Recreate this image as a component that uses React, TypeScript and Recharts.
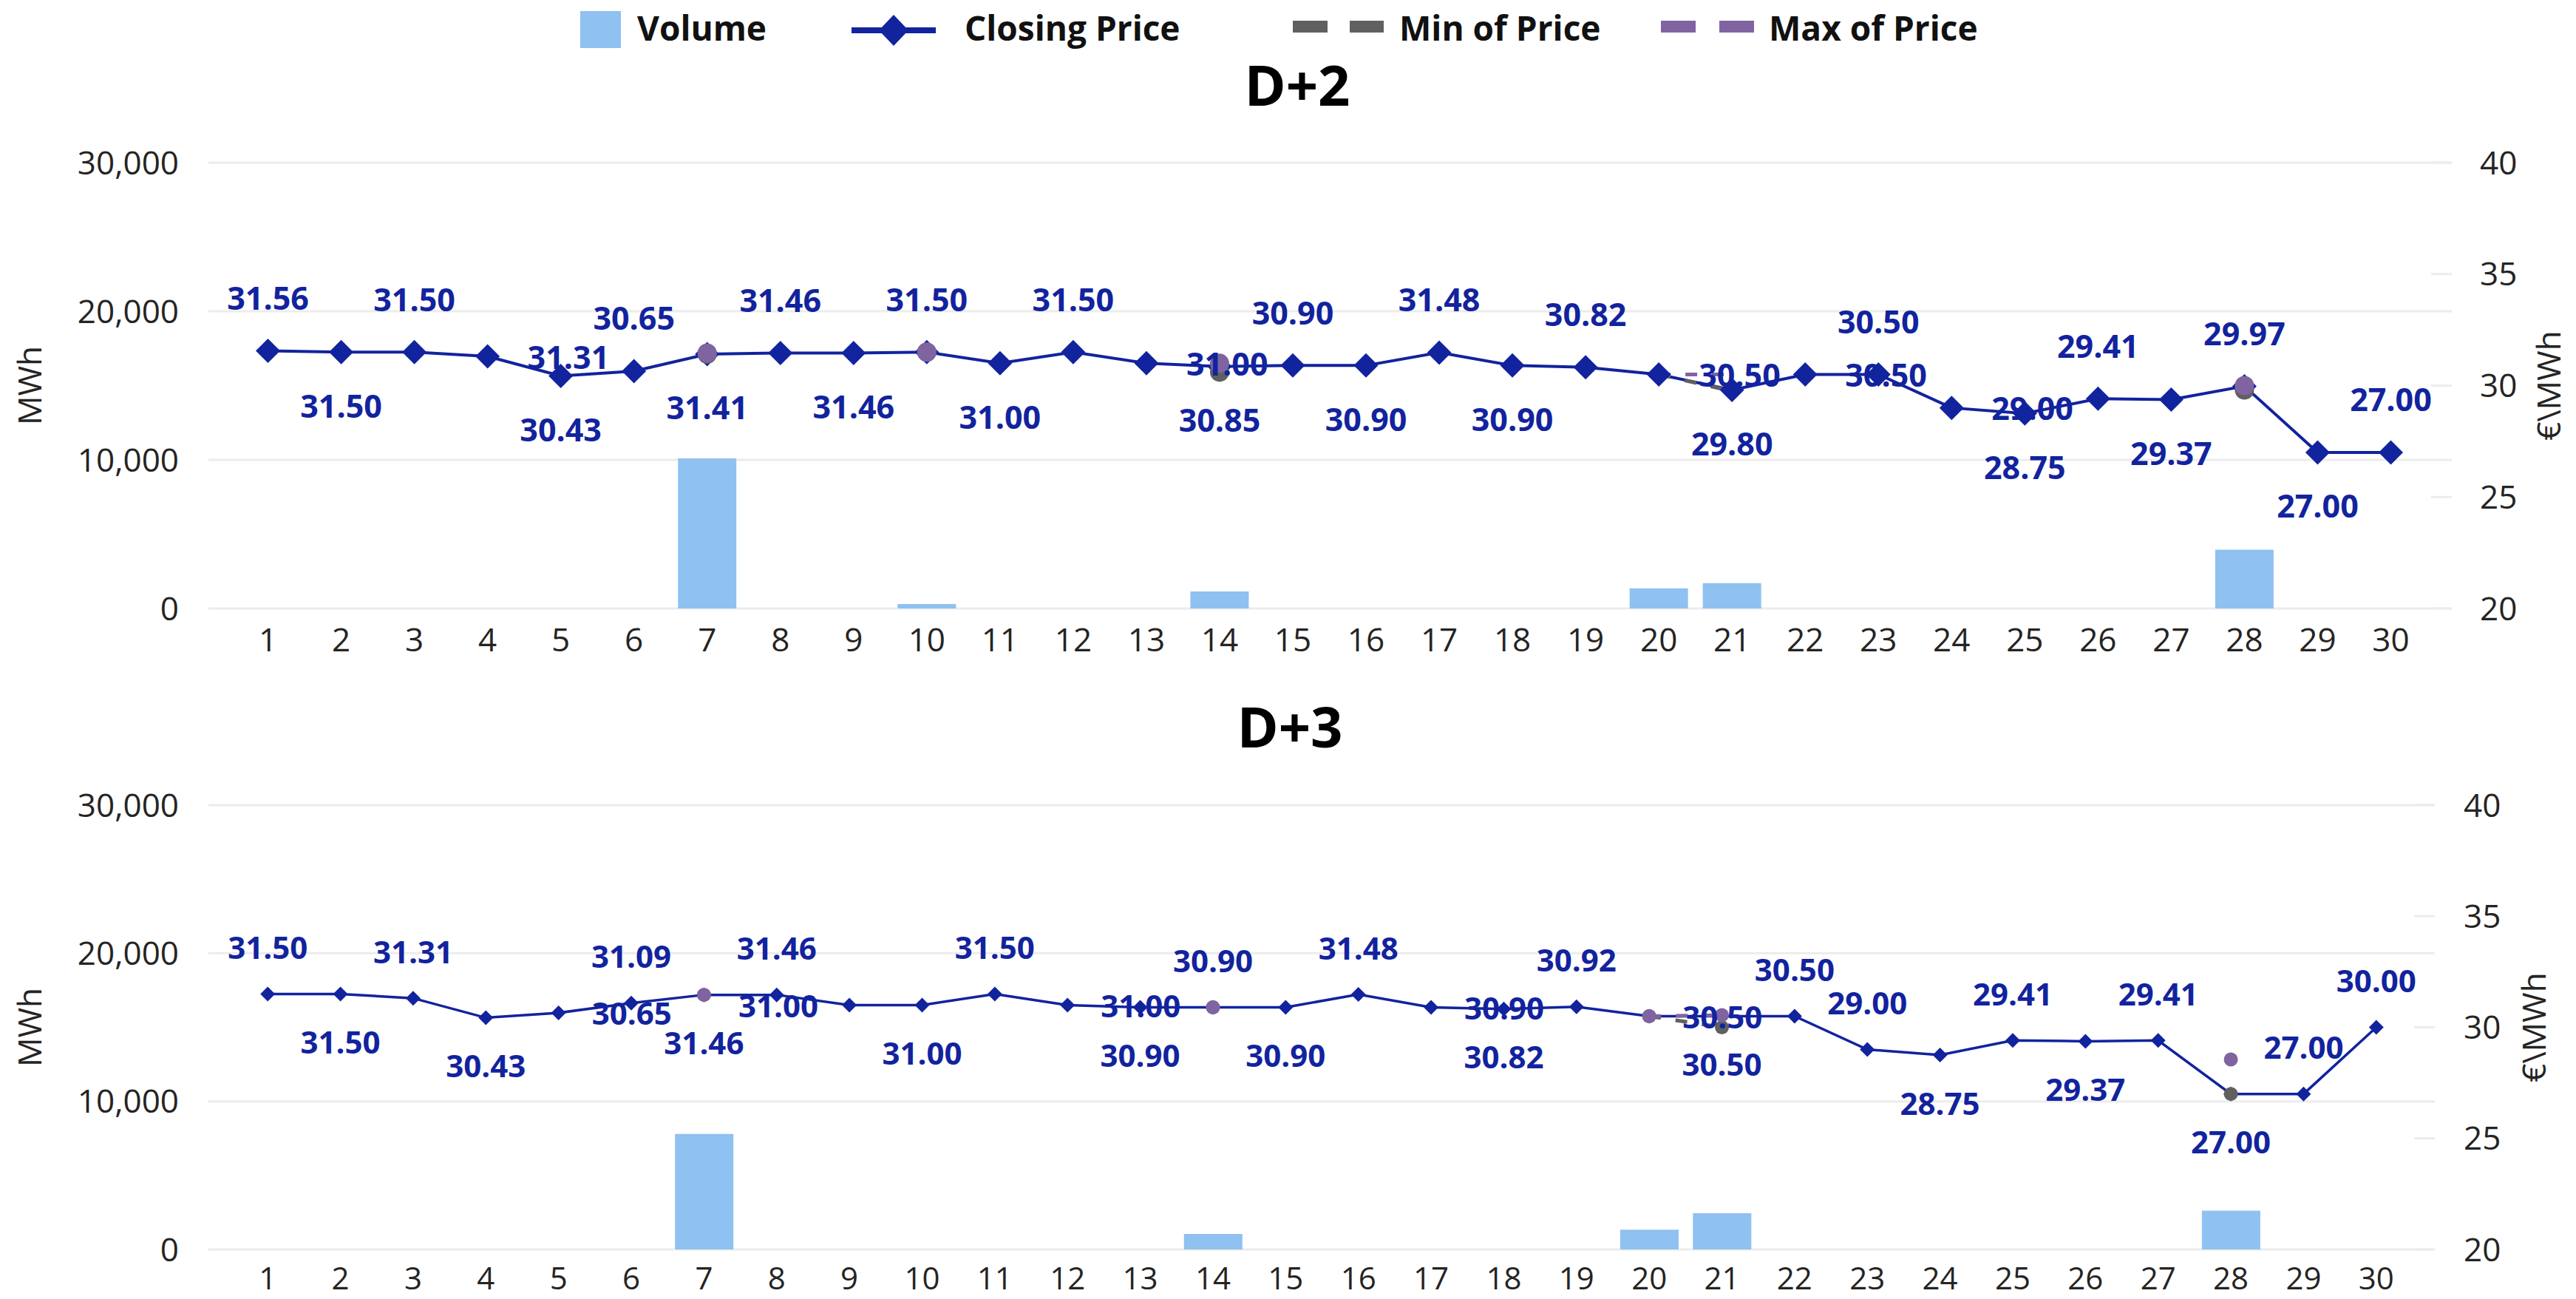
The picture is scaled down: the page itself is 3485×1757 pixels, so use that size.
import React from "react";
import {
  ComposedChart,
  Bar,
  Line,
  XAxis,
  YAxis,
  CartesianGrid,
  LabelList,
  Label
} from "recharts";

// categories: day of month
const days = [
  "1", "2", "3", "4", "5", "6", "7", "8", "9", "10",
  "11", "12", "13", "14", "15", "16", "17", "18", "19", "20",
  "21", "22", "23", "24", "25", "26", "27", "28", "29", "30"
];

const volTicks = [0, 10000, 20000, 30000];
const priceTicks = [20, 25, 30, 35, 40];

// D+2
const d2Volume = [
  null, null, null, null, null, null, 10100, null, null, 300,
  null, null, null, 1150, null, null, null, null, null, 1350,
  1700, null, null, null, null, null, null, 3950, null, null
];
const d2Close = [
  31.56, 31.5, 31.5, 31.31, 30.43, 30.65, 31.41, 31.46, 31.46, 31.5,
  31.0, 31.5, 31.0, 30.85, 30.9, 30.9, 31.48, 30.9, 30.82, 30.5,
  29.8, 30.5, 30.5, 29.0, 28.75, 29.41, 29.37, 29.97, 27.0, 27.0
];
const d2Min = [
  null, null, null, null, null, null, 31.41, null, null, 31.5,
  null, null, null, 30.6, null, null, null, null, null, 30.5,
  29.75, null, null, null, null, null, null, 29.8, null, null
];
const d2Max = [
  null, null, null, null, null, null, 31.46, null, null, 31.5,
  null, null, null, 31.0, null, null, null, null, null, 30.5,
  30.5, null, null, null, null, null, null, 30.0, null, null
];
// where each closing label sits relative to its point
const d2LabelSide = [
  "up", "down", "up", "right", "down", "up", "down", "up", "down", "up",
  "down", "up", "right", "down", "up", "down", "up", "down", "up", "right",
  "down", "right", "up", "right", "down", "up", "down", "up", "down", "up"
];

// D+3
const d3Volume = [
  null, null, null, null, null, null, 7800, null, null, null,
  null, null, null, 1050, null, null, null, null, null, 1330,
  2450, null, null, null, null, null, null, 2620, null, null
];
const d3Close = [
  31.5, 31.5, 31.31, 30.43, 30.65, 31.09, 31.46, 31.46, 31.0, 31.0,
  31.5, 31.0, 30.9, 30.9, 30.9, 31.48, 30.9, 30.82, 30.92, 30.5,
  30.5, 30.5, 29.0, 28.75, 29.41, 29.37, 29.41, 27.0, 27.0, 30.0
];
const d3Min = [
  null, null, null, null, null, null, 31.46, null, null, null,
  null, null, null, 30.9, null, null, null, null, null, 30.5,
  30.0, null, null, null, null, null, null, 27.0, null, null
];
const d3Max = [
  null, null, null, null, null, null, 31.46, null, null, null,
  null, null, null, 30.9, null, null, null, null, null, 30.5,
  30.55, null, null, null, null, null, null, 28.55, null, null
];
const d3LabelSide = [
  "up", "down", "up", "down", "right", "up", "down", "up", "left", "down",
  "up", "right", "down", "up", "down", "up", "right", "down", "up", "right",
  "down", "up", "up", "down", "up", "down", "up", "down", "up", "up"
];

const BLUE = "#12239E";
const LIGHT = "#8fc1f1";
const GREY = "#606060";
const PURPLE = "#8064a2";
const GRID = "#ececec";
const INK = "#252423";
const FONT = "'Segoe UI', 'Open Sans', sans-serif";
const W = 3485;

type PanelStyle = {
  top: number;
  height: number;
  marginTop: number;
  xHeight: number;
  rightWidth: number;
  xPad: { left: number; right: number };
  tickGap: number;
  tickSize: number;
  rightTickGap: number;
  diamond: number;
  lineWidth: number;
  dotR: number;
  labelGap: number;
  rightGap: number;
  leftGap: number;
  labelSize: number;
  unitOffset: number;
  isolatedOnly: boolean;
};

const d2Style: PanelStyle = {
  top: 160, height: 740, marginTop: 60, xHeight: 77, rightWidth: 168,
  xPad: { left: 31, right: 33 }, tickGap: 27, tickSize: 44, rightTickGap: 38,
  diamond: 16.5, lineWidth: 4, dotR: 13, labelGap: 72, rightGap: 54, leftGap: 48,
  labelSize: 43, unitOffset: 37, isolatedOnly: true
};

const d3Style: PanelStyle = {
  top: 1030, height: 727, marginTop: 59, xHeight: 67, rightWidth: 191,
  xPad: { left: 31, right: 30 }, tickGap: 24, tickSize: 42, rightTickGap: 39,
  diamond: 10, lineWidth: 3.5, dotR: 9.5, labelGap: 64, rightGap: 45, leftGap: 42,
  labelSize: 42, unitOffset: 57, isolatedOnly: false
};

function Panel({ vol, close, min, max, sides, s }: any) {
  const data = days.map((day, i) => ({
    day,
    vol: vol[i],
    close: close[i],
    min: min[i],
    max: max[i]
  }));
  const plotRight = W - s.rightWidth;

  const diamondDot = (p: any) => {
    const { cx, cy, index } = p;
    if (cx == null || cy == null) return <g key={`dm-${index}`} />;
    const d = s.diamond;
    return (
      <path
        key={`dm-${index}`}
        d={`M${cx},${cy - d}L${cx + d},${cy}L${cx},${cy + d}L${cx - d},${cy}Z`}
        fill={BLUE}
      />
    );
  };

  const circleDot = (series: any[], color: string) => (p: any) => {
    const { cx, cy, index } = p;
    if (cx == null || cy == null || series[index] == null) return <g key={`c-${index}`} />;
    if (s.isolatedOnly) {
      const prev = index > 0 ? series[index - 1] : null;
      const next = index < series.length - 1 ? series[index + 1] : null;
      if (prev != null || next != null) return <g key={`c-${index}`} />;
    }
    return <circle key={`c-${index}`} cx={cx} cy={cy} r={s.dotR} fill={color} />;
  };

  const renderLabel = (p: any) => {
    const x = p.x ?? p.viewBox?.x;
    const y = p.y ?? p.viewBox?.y;
    const i = days.indexOf(String(p.value));
    if (i < 0 || x == null || y == null) return null;
    const text = close[i].toFixed(2);
    const side = sides[i];
    let tx = x;
    let ty = y;
    let anchor: any = "middle";
    if (side === "up") ty = y - s.labelGap;
    else if (side === "down") ty = y + s.labelGap;
    else if (side === "right") { tx = x + s.rightGap; anchor = "start"; }
    else if (side === "left") { tx = x - s.leftGap; anchor = "end"; }
    return (
      <text
        key={`lb-${i}`}
        x={tx}
        y={ty}
        textAnchor={anchor}
        dominantBaseline="central"
        fontFamily={FONT}
        fontWeight={700}
        fontSize={s.labelSize}
        fill={BLUE}
      >
        {text}
      </text>
    );
  };

  const rightTick = (p: any) => {
    const { x, y, payload } = p;
    return (
      <g key={`rt-${payload.value}`}>
        <line x1={plotRight - 28} x2={plotRight} y1={y} y2={y} stroke={GRID} strokeWidth={3} />
        <text x={x} y={y} dy="0.355em" textAnchor="start" fontSize={44} fill={INK} fontFamily={FONT}>
          {payload.value}
        </text>
      </g>
    );
  };

  return (
    <div style={{ position: "absolute", left: 0, top: s.top }}>
      <ComposedChart
        width={W}
        height={s.height}
        data={data}
        margin={{ top: s.marginTop, right: 0, bottom: 0, left: 0 }}
      >
        <CartesianGrid yAxisId="vol" vertical={false} stroke={GRID} strokeWidth={3} />
        <XAxis
          dataKey="day"
          interval={0}
          padding={s.xPad}
          height={s.xHeight}
          tickSize={0}
          tickMargin={s.tickGap}
          axisLine={false}
          tickLine={false}
          tick={{ fontSize: s.tickSize, fill: INK, fontFamily: FONT }}
        />
        <YAxis
          yAxisId="vol"
          orientation="left"
          domain={[0, 30000]}
          ticks={volTicks}
          width={282}
          tickSize={0}
          tickMargin={40}
          axisLine={false}
          tickLine={false}
          tick={{ fontSize: 44, fill: INK, fontFamily: FONT }}
          tickFormatter={(v: number) => v.toLocaleString("en-US")}
        >
          <Label
            value="MWh"
            angle={-90}
            position="insideLeft"
            offset={40}
            style={{ textAnchor: "middle", fontSize: 44, fill: INK, fontFamily: FONT }}
          />
        </YAxis>
        <YAxis
          yAxisId="price"
          orientation="right"
          domain={[20, 40]}
          ticks={priceTicks}
          width={s.rightWidth}
          tickSize={0}
          tickMargin={s.rightTickGap}
          axisLine={false}
          tickLine={false}
          tick={rightTick}
        >
          <Label
            value={"€\\MWh"}
            angle={-90}
            position="insideRight"
            offset={s.unitOffset}
            style={{ textAnchor: "middle", fontSize: 44, fill: INK, fontFamily: FONT }}
          />
        </YAxis>

        <Bar yAxisId="vol" dataKey="vol" fill={LIGHT} barSize={79} isAnimationActive={false} />

        <Line
          yAxisId="price"
          dataKey="close"
          stroke={BLUE}
          strokeWidth={s.lineWidth}
          dot={diamondDot}
          activeDot={false}
          isAnimationActive={false}
        />
        <Line
          yAxisId="price"
          dataKey="min"
          stroke={GREY}
          strokeWidth={5}
          strokeDasharray="16 20"
          dot={circleDot(min, GREY)}
          activeDot={false}
          connectNulls={false}
          isAnimationActive={false}
        />
        <Line
          yAxisId="price"
          dataKey="max"
          stroke={PURPLE}
          strokeWidth={5}
          strokeDasharray="16 20"
          dot={circleDot(max, PURPLE)}
          activeDot={false}
          connectNulls={false}
          isAnimationActive={false}
        />

        {/* labels last so they sit above the markers */}
        <Line
          yAxisId="price"
          dataKey="close"
          stroke="none"
          strokeWidth={0}
          dot={false}
          activeDot={false}
          legendType="none"
          isAnimationActive={false}
        >
          <LabelList dataKey="day" content={renderLabel} />
        </Line>
      </ComposedChart>
    </div>
  );
}

function Overlay() {
  const txt = { fontFamily: FONT, fontWeight: 700, fontSize: 46, fill: "#111" } as any;
  return (
    <svg
      width={W}
      height={1757}
      style={{ position: "absolute", left: 0, top: 0, pointerEvents: "none" }}
    >
      {/* legend */}
      <rect x={785} y={15} width={55} height={50} fill={LIGHT} />
      <text x={862} y={55} {...txt}>Volume</text>

      <line x1={1152} x2={1266} y1={41} y2={41} stroke={BLUE} strokeWidth={8} />
      <path d="M1209,20L1229,41L1209,62L1189,41Z" fill={BLUE} />
      <text x={1305} y={55} {...txt}>Closing Price</text>

      <rect x={1749} y={28} width={47} height={16} fill={GREY} />
      <rect x={1826} y={28} width={46} height={16} fill={GREY} />
      <text x={1893} y={55} {...txt}>Min of Price</text>

      <rect x={2247} y={28} width={47} height={16} fill={PURPLE} />
      <rect x={2326} y={28} width={47} height={16} fill={PURPLE} />
      <text x={2393} y={55} {...txt}>Max of Price</text>

      {/* panel titles */}
      <text x={1755} y={143} textAnchor="middle" fontFamily={FONT} fontWeight={700} fontSize={76} fill="#000">
        D+2
      </text>
      <text x={1745} y={1011} textAnchor="middle" fontFamily={FONT} fontWeight={700} fontSize={76} fill="#000">
        D+3
      </text>
    </svg>
  );
}

export default function App() {
  return (
    <div
      style={{
        position: "absolute",
        left: 0,
        top: 0,
        width: W,
        height: 1757,
        background: "#fff",
        fontFamily: FONT,
        overflow: "hidden"
      }}
    >
      <Overlay />
      <Panel vol={d2Volume} close={d2Close} min={d2Min} max={d2Max} sides={d2LabelSide} s={d2Style} />
      <Panel vol={d3Volume} close={d3Close} min={d3Min} max={d3Max} sides={d3LabelSide} s={d3Style} />
    </div>
  );
}
